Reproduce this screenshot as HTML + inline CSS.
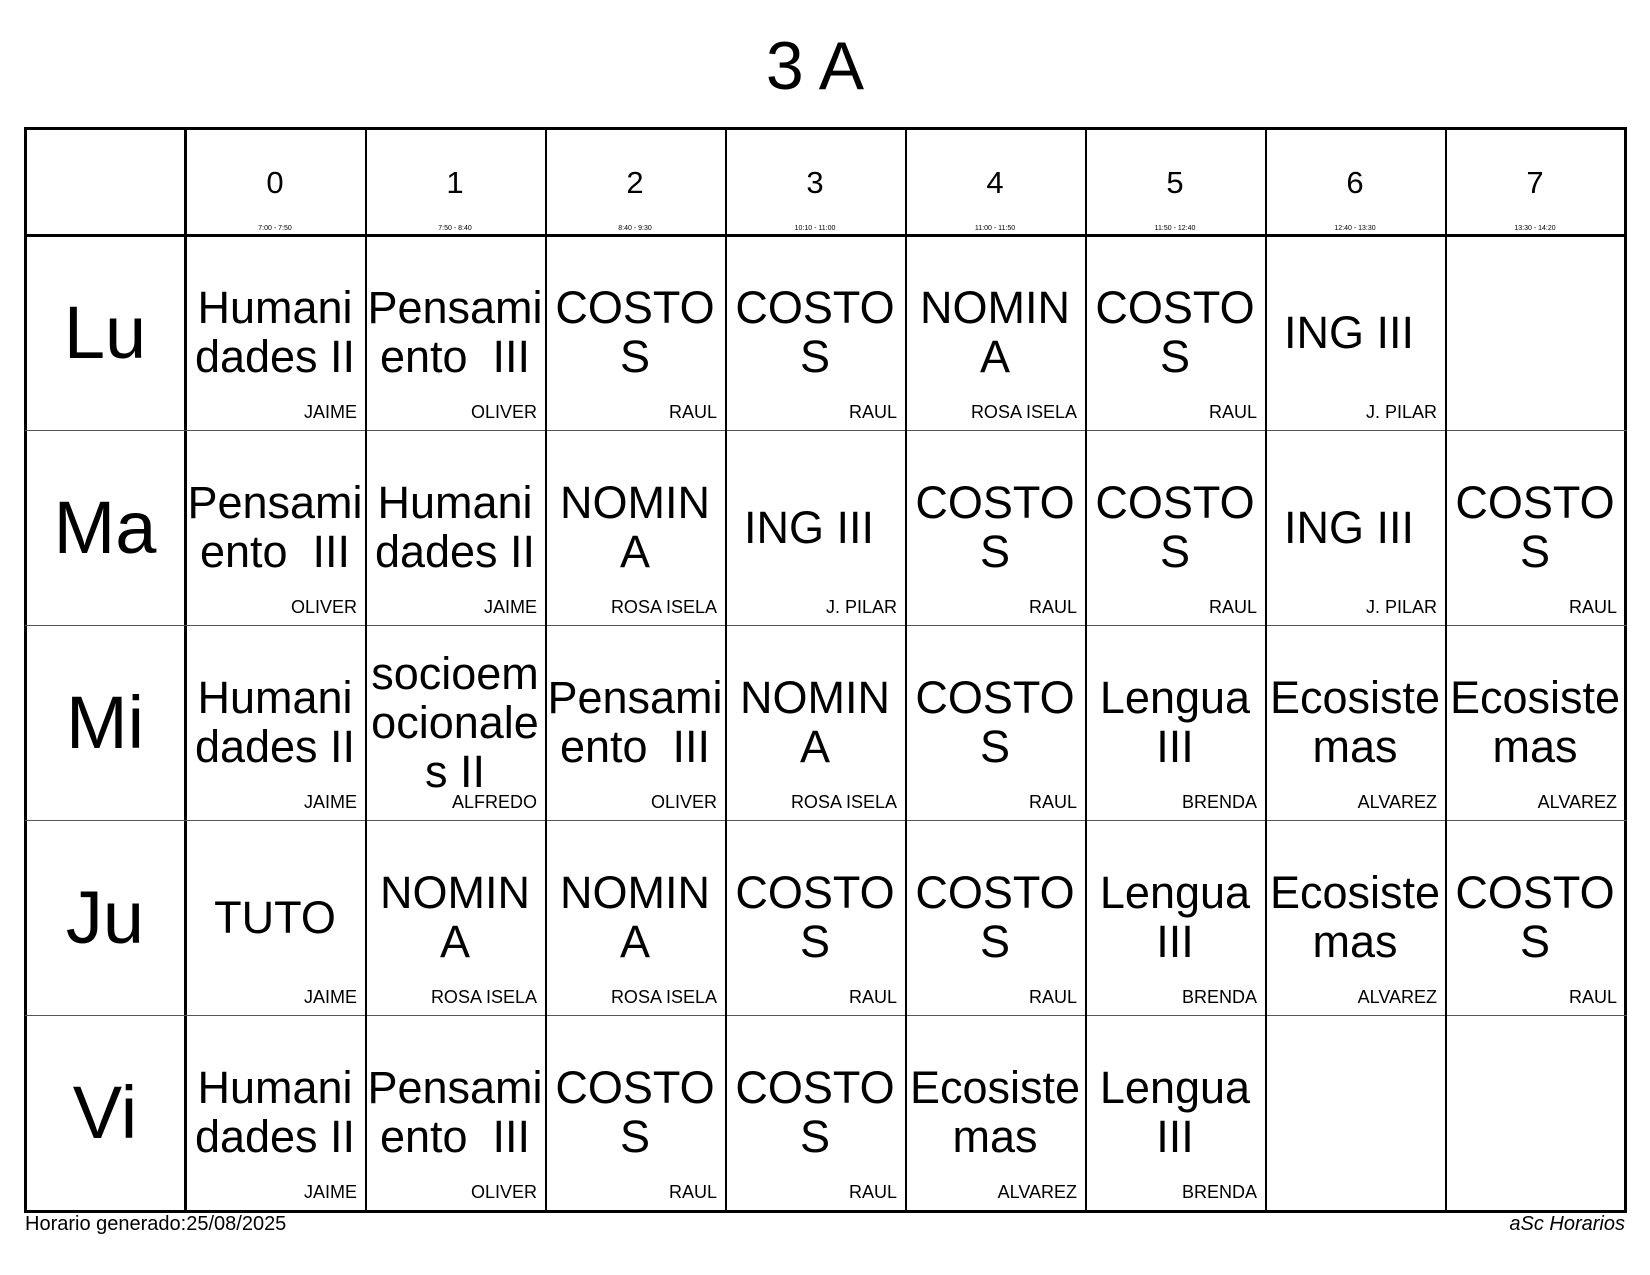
<!DOCTYPE html>
<html><head><meta charset="utf-8"><style>
*{margin:0;padding:0;box-sizing:border-box}
body{width:1650px;height:1275px;background:#fff;position:relative;font-family:"Liberation Sans",Arial,sans-serif;color:#000;overflow:hidden}
.t{position:absolute;left:-10px;width:1650px;top:26px;text-align:center;font-size:68px;line-height:80px}
.c{position:absolute;width:180px;height:195px;display:flex;align-items:center;justify-content:center;text-align:center;font-size:45px;line-height:49px;white-space:pre}
.c .s{margin-top:-1px}
.c .g{margin-left:-12px}
.c b{position:absolute;right:8px;bottom:9px;font-weight:normal;font-size:18px;line-height:18px}
.h{position:absolute;width:180px;top:129px;height:106px;text-align:center}
.hl{position:absolute;background:#000}
.d{position:absolute;left:25px;width:160px;height:195px;display:flex;align-items:center;justify-content:center;font-size:74px}
</style></head><body>
<div class="t">3 A</div>

<div class="hl" style="left:25px;top:127px;width:1602px;height:3px"></div>
<div class="hl" style="left:25px;top:1210px;width:1602px;height:3px"></div>
<div class="hl" style="left:24px;top:127px;width:3px;height:1086px"></div>
<div class="hl" style="left:1624px;top:127px;width:3px;height:1086px"></div>
<div class="hl" style="left:184px;top:127px;width:3px;height:1086px"></div>
<div class="hl" style="left:25px;top:234px;width:1602px;height:3px"></div>
<div class="hl" style="left:25px;top:430px;width:1602px;height:1px;background:#555"></div>
<div class="hl" style="left:25px;top:625px;width:1602px;height:1px;background:#555"></div>
<div class="hl" style="left:25px;top:820px;width:1602px;height:1px;background:#555"></div>
<div class="hl" style="left:25px;top:1015px;width:1602px;height:1px;background:#555"></div>
<div class="hl" style="left:365px;top:127px;width:2px;height:1086px"></div>
<div class="hl" style="left:545px;top:127px;width:2px;height:1086px"></div>
<div class="hl" style="left:725px;top:127px;width:2px;height:1086px"></div>
<div class="hl" style="left:905px;top:127px;width:2px;height:1086px"></div>
<div class="hl" style="left:1085px;top:127px;width:2px;height:1086px"></div>
<div class="hl" style="left:1265px;top:127px;width:2px;height:1086px"></div>
<div class="hl" style="left:1445px;top:127px;width:2px;height:1086px"></div>

<div class="h" style="left:185px"><div style="font-size:31px;margin-top:36px">0</div><div style="font-size:7px;margin-top:24px">7:00 - 7:50</div></div>
<div class="h" style="left:365px"><div style="font-size:31px;margin-top:36px">1</div><div style="font-size:7px;margin-top:24px">7:50 - 8:40</div></div>
<div class="h" style="left:545px"><div style="font-size:31px;margin-top:36px">2</div><div style="font-size:7px;margin-top:24px">8:40 - 9:30</div></div>
<div class="h" style="left:725px"><div style="font-size:31px;margin-top:36px">3</div><div style="font-size:7px;margin-top:24px">10:10 - 11:00</div></div>
<div class="h" style="left:905px"><div style="font-size:31px;margin-top:36px">4</div><div style="font-size:7px;margin-top:24px">11:00 - 11:50</div></div>
<div class="h" style="left:1085px"><div style="font-size:31px;margin-top:36px">5</div><div style="font-size:7px;margin-top:24px">11:50 - 12:40</div></div>
<div class="h" style="left:1265px"><div style="font-size:31px;margin-top:36px">6</div><div style="font-size:7px;margin-top:24px">12:40 - 13:30</div></div>
<div class="h" style="left:1445px"><div style="font-size:31px;margin-top:36px">7</div><div style="font-size:7px;margin-top:24px">13:30 - 14:20</div></div>

<div class="d" style="top:235px">Lu</div>
<div class="d" style="top:430px">Ma</div>
<div class="d" style="top:625px">Mi</div>
<div class="d" style="top:820px">Ju</div>
<div class="d" style="top:1015px">Vi</div>

<div class="c" style="left:185px;top:235px"><div class="s">Humani
dades II</div><b>JAIME</b></div>
<div class="c" style="left:365px;top:235px"><div class="s">Pensami
ento  III</div><b>OLIVER</b></div>
<div class="c" style="left:545px;top:235px"><div class="s">COSTO
S</div><b>RAUL</b></div>
<div class="c" style="left:725px;top:235px"><div class="s">COSTO
S</div><b>RAUL</b></div>
<div class="c" style="left:905px;top:235px"><div class="s">NOMIN
A</div><b>ROSA ISELA</b></div>
<div class="c" style="left:1085px;top:235px"><div class="s">COSTO
S</div><b>RAUL</b></div>
<div class="c" style="left:1265px;top:235px"><div class="s g">ING III</div><b>J. PILAR</b></div>

<div class="c" style="left:185px;top:430px"><div class="s">Pensami
ento  III</div><b>OLIVER</b></div>
<div class="c" style="left:365px;top:430px"><div class="s">Humani
dades II</div><b>JAIME</b></div>
<div class="c" style="left:545px;top:430px"><div class="s">NOMIN
A</div><b>ROSA ISELA</b></div>
<div class="c" style="left:725px;top:430px"><div class="s g">ING III</div><b>J. PILAR</b></div>
<div class="c" style="left:905px;top:430px"><div class="s">COSTO
S</div><b>RAUL</b></div>
<div class="c" style="left:1085px;top:430px"><div class="s">COSTO
S</div><b>RAUL</b></div>
<div class="c" style="left:1265px;top:430px"><div class="s g">ING III</div><b>J. PILAR</b></div>
<div class="c" style="left:1445px;top:430px"><div class="s">COSTO
S</div><b>RAUL</b></div>

<div class="c" style="left:185px;top:625px"><div class="s">Humani
dades II</div><b>JAIME</b></div>
<div class="c" style="left:365px;top:625px"><div class="s">socioem
ocionale
s II</div><b>ALFREDO</b></div>
<div class="c" style="left:545px;top:625px"><div class="s">Pensami
ento  III</div><b>OLIVER</b></div>
<div class="c" style="left:725px;top:625px"><div class="s">NOMIN
A</div><b>ROSA ISELA</b></div>
<div class="c" style="left:905px;top:625px"><div class="s">COSTO
S</div><b>RAUL</b></div>
<div class="c" style="left:1085px;top:625px"><div class="s">Lengua
III</div><b>BRENDA</b></div>
<div class="c" style="left:1265px;top:625px"><div class="s">Ecosiste
mas</div><b>ALVAREZ</b></div>
<div class="c" style="left:1445px;top:625px"><div class="s">Ecosiste
mas</div><b>ALVAREZ</b></div>

<div class="c" style="left:185px;top:820px"><div class="s">TUTO</div><b>JAIME</b></div>
<div class="c" style="left:365px;top:820px"><div class="s">NOMIN
A</div><b>ROSA ISELA</b></div>
<div class="c" style="left:545px;top:820px"><div class="s">NOMIN
A</div><b>ROSA ISELA</b></div>
<div class="c" style="left:725px;top:820px"><div class="s">COSTO
S</div><b>RAUL</b></div>
<div class="c" style="left:905px;top:820px"><div class="s">COSTO
S</div><b>RAUL</b></div>
<div class="c" style="left:1085px;top:820px"><div class="s">Lengua
III</div><b>BRENDA</b></div>
<div class="c" style="left:1265px;top:820px"><div class="s">Ecosiste
mas</div><b>ALVAREZ</b></div>
<div class="c" style="left:1445px;top:820px"><div class="s">COSTO
S</div><b>RAUL</b></div>

<div class="c" style="left:185px;top:1015px"><div class="s">Humani
dades II</div><b>JAIME</b></div>
<div class="c" style="left:365px;top:1015px"><div class="s">Pensami
ento  III</div><b>OLIVER</b></div>
<div class="c" style="left:545px;top:1015px"><div class="s">COSTO
S</div><b>RAUL</b></div>
<div class="c" style="left:725px;top:1015px"><div class="s">COSTO
S</div><b>RAUL</b></div>
<div class="c" style="left:905px;top:1015px"><div class="s">Ecosiste
mas</div><b>ALVAREZ</b></div>
<div class="c" style="left:1085px;top:1015px"><div class="s">Lengua
III</div><b>BRENDA</b></div>

<div style="position:absolute;left:25px;top:1213px;font-size:20px;line-height:22px">Horario generado:25/08/2025</div>
<div style="position:absolute;right:25px;top:1213px;font-size:20px;line-height:22px;font-style:italic">aSc Horarios</div>
</body></html>
